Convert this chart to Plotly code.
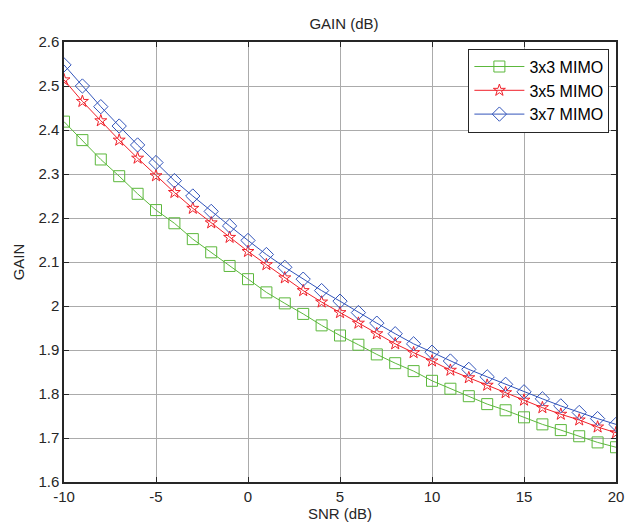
import plotly.graph_objects as go

snr = list(range(-10, 21))
gain_3x3 = [2.419, 2.377, 2.333, 2.295, 2.255, 2.218, 2.188, 2.152, 2.122, 2.091, 2.061,
            2.031, 2.006, 1.982, 1.956, 1.933, 1.912, 1.890, 1.870, 1.852, 1.830,
            1.812, 1.795, 1.777, 1.763, 1.747, 1.731, 1.718, 1.704, 1.690, 1.679]
gain_3x5 = [2.514, 2.465, 2.421, 2.377, 2.336, 2.296, 2.258, 2.222, 2.189, 2.156, 2.124,
            2.094, 2.064, 2.035, 2.009, 1.985, 1.961, 1.937, 1.914, 1.894, 1.875,
            1.854, 1.837, 1.820, 1.803, 1.786, 1.769, 1.754, 1.741, 1.725, 1.712]
gain_3x7 = [2.548, 2.500, 2.453, 2.409, 2.366, 2.326, 2.285, 2.250, 2.215, 2.182, 2.149,
            2.117, 2.088, 2.061, 2.035, 2.011, 1.985, 1.961, 1.937, 1.914, 1.895,
            1.875, 1.856, 1.839, 1.822, 1.805, 1.789, 1.773, 1.758, 1.744, 1.731]
series_names = ["3x3 MIMO", "3x5 MIMO", "3x7 MIMO"]
x_ticks = [-10, -5, 0, 5, 10, 15, 20]
x_tick_text = ["-10", "-5", "0", "5", "10", "15", "20"]
y_ticks = [1.6, 1.7, 1.8, 1.9, 2.0, 2.1, 2.2, 2.3, 2.4, 2.5, 2.6]
y_tick_text = ["1.6", "1.7", "1.8", "1.9", "2", "2.1", "2.2", "2.3", "2.4", "2.5", "2.6"]

styles = [("#5cb83c", "square-open", 11), ("#f0202a", "star-open", 9), ("#3355bb", "diamond-open", 11)]

FONT = "Liberation Sans, Arial"
fig = go.Figure()
for name, vals, (col, sym, sz) in zip(series_names, [gain_3x3, gain_3x5, gain_3x7], styles):
    fig.add_trace(go.Scatter(
        x=snr, y=vals, name=name, mode="lines+markers",
        line=dict(color=col, width=1),
        marker=dict(symbol=sym, size=sz, color=col, line=dict(width=1, color=col)),
    ))

axis_common = dict(
    showline=True, linecolor="#262626", linewidth=1.5, mirror="ticks",
    ticks="inside", ticklen=5, tickcolor="#262626",
    showgrid=True, gridcolor="#ababab", gridwidth=1,
    zeroline=False,
    tickfont=dict(family=FONT, size=15, color="#262626"),
    title_font=dict(family=FONT, size=15, color="#262626"),
)

fig.update_layout(
    width=632, height=524,
    margin=dict(l=64, r=8, t=42, b=42),
    paper_bgcolor="white", plot_bgcolor="white",
    title=dict(text="GAIN (dB)", x=(64 + 624) / 2 / 632, xanchor="center",
               y=1 - 24 / 524, yanchor="middle",
               font=dict(family=FONT, size=15, color="#262626")),
    xaxis=dict(range=[-10, 20], tickvals=x_ticks, ticktext=x_tick_text,
               title=dict(text="SNR (dB)", standoff=0), **axis_common),
    yaxis=dict(range=[1.6, 2.6], tickvals=y_ticks, ticktext=y_tick_text,
               title=dict(text="GAIN", standoff=10), **axis_common),
    legend=dict(x=0.988, y=0.985, xanchor="right", yanchor="top",
                bgcolor="white", bordercolor="#262626", borderwidth=1,
                font=dict(family=FONT, size=16, color="#000"),
                tracegroupgap=0, itemwidth=50),
    showlegend=True,
)

fig.write_html("out.html", config={"displayModeBar": False},
               post_script="document.body.style.margin='0';document.body.style.overflow='hidden';")
